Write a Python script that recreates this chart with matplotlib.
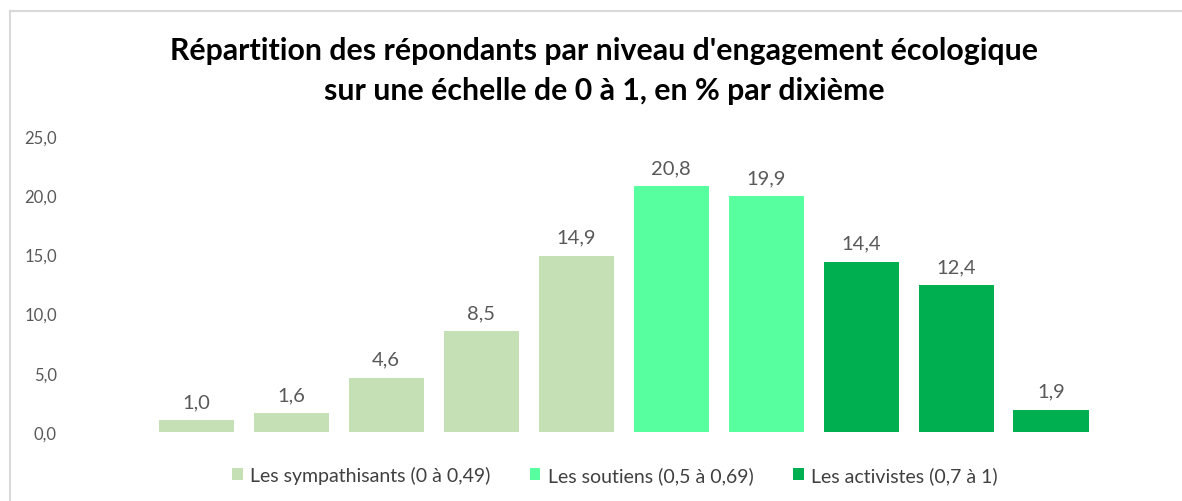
import matplotlib
matplotlib.use("Agg")
import matplotlib.pyplot as plt
from matplotlib.lines import Line2D
from matplotlib.patches import Patch

plt.rcParams['font.family'] = ['Lato', 'DejaVu Sans']

title = "Répartition des répondants par niveau d'engagement écologique\nsur une échelle de 0 à 1, en % par dixième"
categories = ["0-0,1", "0,1-0,2", "0,2-0,3", "0,3-0,4", "0,4-0,5",
              "0,5-0,6", "0,6-0,7", "0,7-0,8", "0,8-0,9", "0,9-1"]
series_names = ["Les sympathisants (0 à 0,49)", "Les soutiens (0,5 à 0,69)", "Les activistes (0,7 à 1)"]
sympathisants = [1.0, 1.6, 4.6, 8.5, 14.9, None, None, None, None, None]
soutiens = [None, None, None, None, None, 20.8, 19.9, None, None, None]
activistes = [None, None, None, None, None, None, None, 14.4, 12.4, 1.9]
colors = ["#C5E0B4", "#57FF9F", "#00B050"]
yticks = [0, 5, 10, 15, 20, 25]

W, H = 1182, 502
fig = plt.figure(figsize=(W / 100, H / 100), dpi=100)
ax = fig.add_axes([68 / W, (H - 433) / H, (1098.5 - 68) / W, (433 - 137) / H])

for vals, col, name in zip([sympathisants, soutiens, activistes], colors, series_names):
    xs = [i for i, v in enumerate(vals) if v is not None]
    ys = [v for v in vals if v is not None]
    ax.bar(xs, ys, width=0.79, color=col, label=name, zorder=2)
    for x, y in zip(xs, ys):
        ax.annotate(f"{y:.1f}".replace(".", ","), (x, y), xytext=(0, 7),
                    textcoords="offset points", ha="center", va="bottom",
                    fontsize=14.5, color="#595959")

ax.set_xlim(-1.35, 9.5)
ax.set_ylim(0, 25)
ax.set_yticks(yticks)
ax.set_yticklabels([f"{t:.1f}".replace(".", ",") for t in yticks], fontsize=12, color="#595959")
ax.set_xticks([])
ax.tick_params(axis="y", length=0, pad=8)
for s in ax.spines.values():
    s.set_visible(False)

fig.text(604 / W, 1 - 71 / H, title, ha="center", va="center", fontsize=21.8,
         fontweight="bold", color="#000000", linespacing=1.5)

handles = [Patch(facecolor=c, edgecolor="none") for c in colors]
fig.legend(handles, series_names, loc="center", bbox_to_anchor=(615 / W, 1 - 476 / H),
           ncol=3, frameon=False, fontsize=14, handlelength=0.55, handleheight=0.55,
           handletextpad=0.4, columnspacing=2.0, labelcolor="#404040")

# chart frame (left and top edges visible)
fig.add_artist(Line2D([10 / W, 10 / W], [0, 1 - 12 / H], transform=fig.transFigure,
                      color="#D9D9D9", lw=1.5))
fig.add_artist(Line2D([10 / W, 1], [1 - 12 / H, 1 - 12 / H], transform=fig.transFigure,
                      color="#D9D9D9", lw=1.5))

fig.savefig("out.png", dpi=100, facecolor="white")
